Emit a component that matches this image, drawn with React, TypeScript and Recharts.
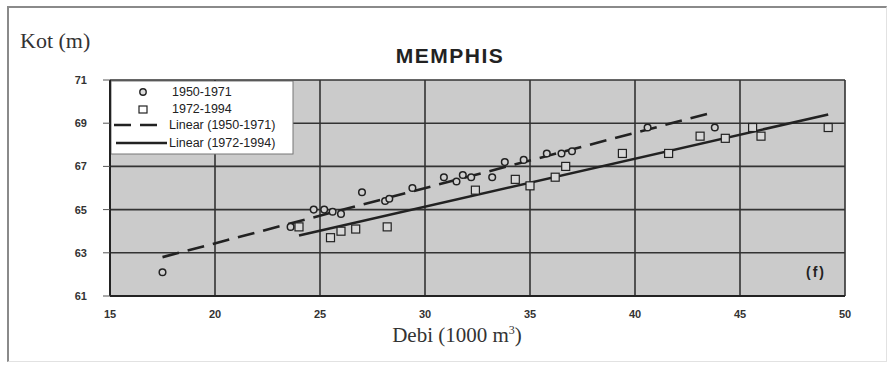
import React from "react";
import {
  ComposedChart,
  Scatter,
  Line,
  XAxis,
  YAxis,
  CartesianGrid,
} from "recharts";

// Discharge (1000 m3) vs. stage (m) at Memphis
const SERIES_1950_1971 = [
  { x: 17.5, y: 62.1 },
  { x: 23.6, y: 64.2 },
  { x: 24.7, y: 65.0 },
  { x: 25.2, y: 65.0 },
  { x: 25.6, y: 64.9 },
  { x: 26.0, y: 64.8 },
  { x: 27.0, y: 65.8 },
  { x: 28.1, y: 65.4 },
  { x: 28.3, y: 65.5 },
  { x: 29.4, y: 66.0 },
  { x: 30.9, y: 66.5 },
  { x: 31.5, y: 66.3 },
  { x: 31.8, y: 66.6 },
  { x: 32.2, y: 66.5 },
  { x: 33.2, y: 66.5 },
  { x: 33.8, y: 67.2 },
  { x: 34.7, y: 67.3 },
  { x: 35.8, y: 67.6 },
  { x: 36.5, y: 67.6 },
  { x: 37.0, y: 67.7 },
  { x: 40.6, y: 68.8 },
  { x: 43.8, y: 68.8 },
];

const SERIES_1972_1994 = [
  { x: 24.0, y: 64.2 },
  { x: 25.5, y: 63.7 },
  { x: 26.0, y: 64.0 },
  { x: 26.7, y: 64.1 },
  { x: 28.2, y: 64.2 },
  { x: 32.4, y: 65.9 },
  { x: 34.3, y: 66.4 },
  { x: 35.0, y: 66.1 },
  { x: 36.2, y: 66.5 },
  { x: 36.7, y: 67.0 },
  { x: 39.4, y: 67.6 },
  { x: 41.6, y: 67.6 },
  { x: 43.1, y: 68.4 },
  { x: 44.3, y: 68.3 },
  { x: 45.6, y: 68.8 },
  { x: 46.0, y: 68.4 },
  { x: 49.2, y: 68.8 },
];

// fitted trend lines, end points
const TREND_1950_1971 = [
  { x: 17.5, y: 62.8 },
  { x: 43.7, y: 69.5 },
];
const TREND_1972_1994 = [
  { x: 24.0, y: 63.8 },
  { x: 49.2, y: 69.4 },
];

const X_TICKS = [15, 20, 25, 30, 35, 40, 45, 50];
const Y_TICKS = [61, 63, 65, 67, 69, 71];

const SANS = "'Liberation Sans', Arial, sans-serif";
const SERIF = "'Liberation Serif', 'Times New Roman', serif";
const INK = "#222";

const CircleMark = (props: any) => (
  <circle cx={props.cx} cy={props.cy} r={3.3} fill="#d0d0d0" stroke={INK} strokeWidth={1.5} />
);

const SquareMark = (props: any) => (
  <rect x={props.cx - 4} y={props.cy - 4} width={8} height={8} fill="#d8d8d8" stroke={INK} strokeWidth={1.2} />
);

const LegendBox = () => (
  <svg
    width={183}
    height={74}
    style={{ position: "absolute", left: 111, top: 81, fontFamily: SANS, fontSize: 12.5 }}
  >
    <rect x={0} y={0} width={182} height={73} fill="#fff" stroke="#777" strokeWidth={1} />
    <circle cx={32} cy={11} r={3.2} fill="#ddd" stroke={INK} strokeWidth={1.4} />
    <rect x={28} y={25} width={8} height={7} fill="#fff" stroke={INK} strokeWidth={1.2} />
    <line x1={3} y1={44} x2={54} y2={44} stroke={INK} strokeWidth={2.5} strokeDasharray="17 9" />
    <line x1={5} y1={62} x2={56} y2={62} stroke={INK} strokeWidth={2.5} />
    <text x={61} y={15} fill={INK}>1950-1971</text>
    <text x={61} y={32} fill={INK}>1972-1994</text>
    <text x={58} y={48} fill={INK}>Linear (1950-1971)</text>
    <text x={58} y={66} fill={INK}>Linear (1972-1994)</text>
  </svg>
);

export default function App() {
  return (
    <div
      style={{
        position: "absolute",
        left: 0,
        top: 0,
        width: 894,
        height: 369,
        background: "#fff",
      }}
    >
      {/* outer frame */}
      <div
        style={{
          position: "absolute",
          left: 7,
          top: 6,
          width: 880,
          height: 356,
          borderTop: "2px solid #8a8a8a",
          borderLeft: "2px solid #8a8a8a",
          borderRight: "1px solid #e2e2e2",
          borderBottom: "1px solid #e2e2e2",
          boxSizing: "border-box",
        }}
      />
      <div style={{ position: "absolute", left: 20, top: 28, fontFamily: SERIF, fontSize: 22, color: "#333" }}>
        Kot (m)
      </div>
      <div
        style={{
          position: "absolute",
          left: 0,
          width: 900,
          top: 44,
          textAlign: "center",
          fontFamily: SANS,
          fontWeight: "bold",
          fontSize: 21,
          letterSpacing: 1.5,
          color: INK,
        }}
      >
        MEMPHIS
      </div>
      <div
        style={{
          position: "absolute",
          left: 0,
          width: 914,
          top: 323,
          textAlign: "center",
          fontFamily: SERIF,
          fontSize: 21,
          color: "#333",
        }}
      >
        Debi (1000 m<sup style={{ fontSize: 12 }}>3</sup>)
      </div>

      <ComposedChart
        width={894}
        height={369}
        margin={{ top: 80, right: 49, bottom: 43, left: 0 }}
        style={{ position: "absolute", left: 0, top: 0 }}
      >
        <CartesianGrid
          fill="#cbcbcb"
          stroke="#333"
          strokeWidth={1.6}
          horizontalValues={Y_TICKS}
          verticalValues={X_TICKS}
        />
        <XAxis
          type="number"
          dataKey="x"
          domain={[15, 50]}
          ticks={X_TICKS}
          height={30}
          axisLine={{ stroke: INK, strokeWidth: 2 }}
          tickLine={false}
          tickSize={5}
          tickMargin={9}
          tick={{ fill: "#333", fontSize: 11, fontFamily: SANS, fontWeight: "bold" }}
        />
        <YAxis
          type="number"
          dataKey="y"
          domain={[61, 71]}
          ticks={Y_TICKS}
          width={110}
          axisLine={{ stroke: INK, strokeWidth: 2 }}
          tickLine={{ stroke: "#555" }}
          tickSize={7}
          tickMargin={16}
          tick={{ fill: "#333", fontSize: 11, fontFamily: SANS, fontWeight: "bold" }}
        />
        <Line
          data={TREND_1950_1971}
          dataKey="y"
          type="linear"
          stroke={INK}
          strokeWidth={2.6}
          strokeDasharray="17 9"
          dot={false}
          activeDot={false}
          isAnimationActive={false}
        />
        <Line
          data={TREND_1972_1994}
          dataKey="y"
          type="linear"
          stroke={INK}
          strokeWidth={2.6}
          dot={false}
          activeDot={false}
          isAnimationActive={false}
        />
        <Scatter data={SERIES_1950_1971} shape={CircleMark} isAnimationActive={false} />
        <Scatter data={SERIES_1972_1994} shape={SquareMark} isAnimationActive={false} />
      </ComposedChart>

      <LegendBox />
      <div
        style={{
          position: "absolute",
          left: 806,
          top: 264,
          fontFamily: SANS,
          fontWeight: "bold",
          fontSize: 14,
          letterSpacing: 2,
          color: INK,
        }}
      >
        (f)
      </div>
    </div>
  );
}
